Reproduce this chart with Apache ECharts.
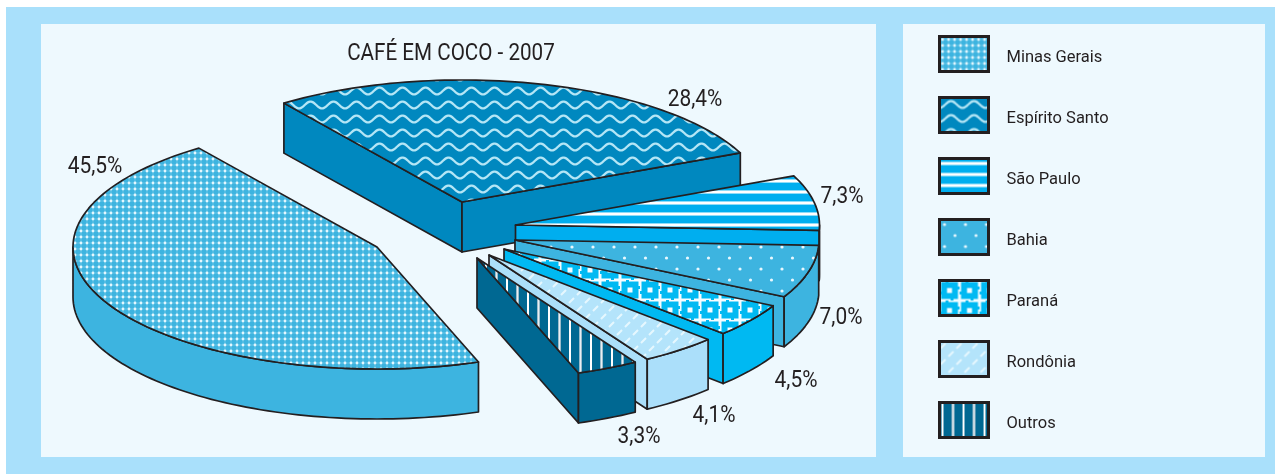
<!DOCTYPE html>
<html><head><meta charset="utf-8">
<style>html,body{margin:0;padding:0;background:#fff}#c{width:1275px;height:474px}</style>
<script src="https://cdn.jsdelivr.net/npm/echarts@6/dist/echarts.min.js"></script>
</head><body><div id="c"></div>
<script>
// ---- data ----
const titleText = 'CAFÉ EM COCO - 2007';
const regions = ['Minas Gerais','Espírito Santo','São Paulo','Bahia','Paraná','Rondônia','Outros'];
const shares = [45.5,28.4,7.3,7.0,4.5,4.1,3.3];
const shareLabels = ['45,5%','28,4%','7,3%','7,0%','4,5%','4,1%','3,3%'];

// ---- layout and styling ----
const RX = 304, RY = 122, DEPTH = 50, START_ANGLE = 160.5;
const apexX = [377,462,515.5,515,504,489,477];
const apexY = [247,202,225,240,249,255,258];
const labelX = [95,695,842,841,796,714,639];
const labelY = [167,100,197,318,381,416,437];
const wallColors = ['#3db4e0','#0088bf','#00aeef','#3db4e0','#00b9f2','#abdffa','#006892'];
const INK = '#231f20';
const FONT = 'Roboto,"Liberation Sans",sans-serif';
const NARROW_X = 0.87;

function tile(w,h,bg,draw){
  const c=document.createElement('canvas');c.width=w;c.height=h;
  const g=c.getContext('2d');g.fillStyle=bg;g.fillRect(0,0,w,h);draw(g,w,h);
  return {type:'pattern',image:c,repeat:'repeat'};
}
function dot(g,x,y,r,col){g.fillStyle=col;g.beginPath();g.arc(x,y,r,0,7);g.fill();}
const patterns = [
  tile(6,6,'#3db4e0',g=>{ g.fillStyle='rgba(255,255,255,0.12)';g.fillRect(2,0,2,6);g.fillRect(0,2,6,2);
    dot(g,3,3,1.4,'#e4f7fe'); }),
  tile(23,14,'#0088bf',g=>{ g.strokeStyle='#b4e6f6';g.lineWidth=2.3;g.beginPath();
    for(let x=-1;x<=24;x++){const y=7+3.4*Math.cos(x/23*2*Math.PI);x===-1?g.moveTo(x,y):g.lineTo(x,y);} g.stroke();}),
  tile(4,11,'#00aeef',g=>{ g.fillStyle='#8fdcf8';g.fillRect(0,3,4,4);g.fillStyle='#fff';g.fillRect(0,4,4,2);}),
  tile(21,22,'#3db4e0',g=>{ dot(g,5,5,1.6,'#e8f8fe'); dot(g,15.5,16,1.6,'#e8f8fe'); }),
  tile(20,20,'#f4fcff',g=>{ g.fillStyle='#00b9f2';g.fillRect(1.5,1.5,17,17);
    g.fillRect(0,11,2,3);g.fillRect(18,6,2,3);g.fillRect(6,0,3,2);g.fillRect(11,18,3,2);
    g.fillStyle='#f4fcff';g.fillRect(7.5,7.5,5,5);}),
  tile(16,16,'#b4e4fb',g=>{ g.strokeStyle='#e6f7fe';g.lineWidth=2;
    g.beginPath();g.moveTo(1,7);g.lineTo(6,2);g.moveTo(9,15);g.lineTo(14,10);g.stroke();}),
  tile(21,4,'#006892',g=>{ g.fillStyle='#fff';g.fillRect(2,0,2,4);g.fillStyle='#9cbccb';g.fillRect(12,0,3,4);g.fillStyle='#e8eff3';g.fillRect(13,0,1,4);})
];

const total = shares.reduce((a,b)=>a+b,0);
const cum = []; shares.reduce((a,b,i)=>(cum[i]=a,a+b),0);
const toDeg = v => echarts.number.linearMap(v,[0,total],[0,360]);
function pt(i,deg,dy){
  const t=deg*Math.PI/180;
  return [apexX[i]+RX*Math.sin(t), apexY[i]-RY*Math.cos(t)+(dy||0)];
}
function arcPts(i,a,b,dy){
  const n=Math.max(2,Math.ceil(Math.abs(b-a)/1.5)),out=[];
  for(let k=0;k<=n;k++) out.push(pt(i,a+(b-a)*k/n,dy));
  return out;
}
const lineStyle = f => ({fill:f,stroke:INK,lineWidth:1.7,lineJoin:'round'});
function makeRender(i){
  return function(params,api){
    const a0 = START_ANGLE + toDeg(cum[i]);
    const a1 = a0 + toDeg(api.value(0));
    const children = [];
    const s = wallColors[i];
    const radial = (deg)=>{
      const A=[apexX[i],apexY[i]], B=pt(i,deg);
      children.push({type:'polygon',shape:{points:[A,B,[B[0],B[1]+DEPTH],[A[0],A[1]+DEPTH]]},style:lineStyle(s)});
    };
    if(Math.sin(a0*Math.PI/180)<0) radial(a0);
    if(Math.sin(a1*Math.PI/180)>0) radial(a1);
    [[90,270],[450,630]].forEach(r=>{
      const p=Math.max(a0,r[0]), q=Math.min(a1,r[1]);
      if(q>p){
        const top=arcPts(i,p,q,0), bot=arcPts(i,q,p,DEPTH);
        children.push({type:'polygon',shape:{points:top.concat(bot)},style:lineStyle(s)});
      }
    });
    children.push({type:'polygon',shape:{points:[[apexX[i],apexY[i]]].concat(arcPts(i,a0,a1,0))},style:lineStyle(patterns[i])});
    children.push({type:'text',x:labelX[i],y:labelY[i],scaleX:NARROW_X,style:{text:shareLabels[i],fill:INK,align:'center',verticalAlign:'middle',font:'24px '+FONT}});
    return {type:'group',children};
  };
}
const chart = echarts.init(document.getElementById('c'),null,{renderer:'canvas'});
chart.setOption({
  animation:false,
  backgroundColor:'#ffffff',
  graphic:[
    {type:'rect',z:-10,shape:{x:6,y:7,width:1269,height:467},style:{fill:'#a9e0fb'}},
    {type:'rect',z:-9,shape:{x:41,y:24,width:835,height:433},style:{fill:'#eef9fe'}},
    {type:'rect',z:-9,shape:{x:903,y:24,width:362,height:433},style:{fill:'#eef9fe'}},
    {type:'text',z:5,x:451,y:54,scaleX:0.86,style:{text:titleText,fill:INK,align:'center',verticalAlign:'middle',font:'24px '+FONT}}
  ],
  legend:{
    orient:'vertical',left:938,top:35,padding:0,itemWidth:49,itemHeight:35,itemGap:23,selectedMode:false,
    icon:'rect',
    data:regions.map((n,i)=>({name:n,icon:'rect',itemStyle:{color:patterns[i],borderColor:INK,borderWidth:3}})),
    formatter:'{t|{name}}',
    textStyle:{rich:{t:{fontFamily:FONT,fontSize:16.5,color:INK,padding:[8,0,0,13]}}}
  },
  series:regions.map((n,i)=>({
    type:'custom',name:n,coordinateSystem:'none',silent:true,
    renderItem:makeRender(i),
    data:[[shares[i]]],
    itemStyle:{color:wallColors[i]}
  }))
});
</script></body></html>
